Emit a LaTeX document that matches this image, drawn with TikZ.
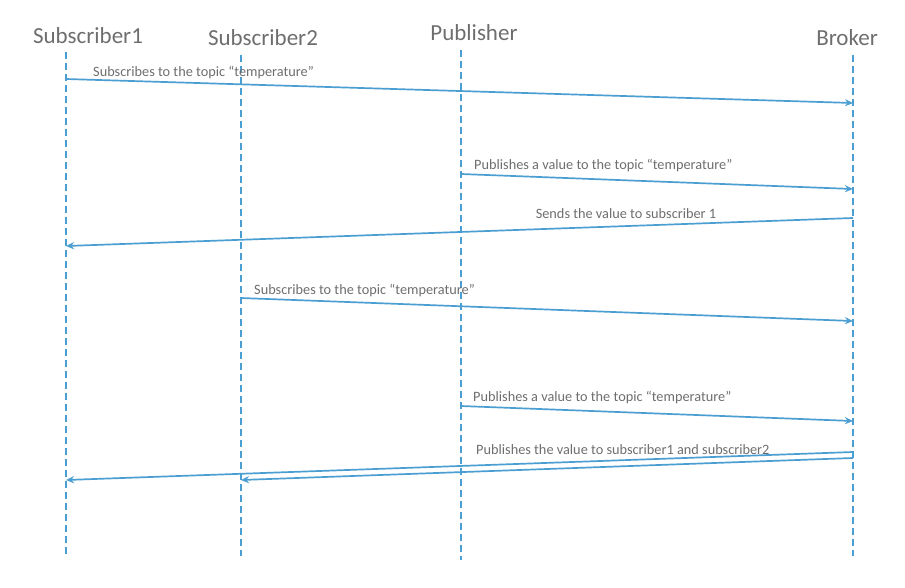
\documentclass[tikz,border=0pt]{standalone}
\usepackage{fontspec}
\setmainfont{Carlito}
\usetikzlibrary{arrows.meta}
\definecolor{ln}{HTML}{4A9ED2}
\definecolor{tx}{HTML}{6E6E6E}
\begin{document}
\begin{tikzpicture}[x=1pt,y=-1pt,
 life/.style={ln,line width=1.6pt,dash pattern=on 7pt off 4pt},
 msg/.style={ln,line width=1.7pt,-{Stealth[length=8pt,width=7pt]}},
 head/.style={text=tx,font=\fontsize{23}{26}\selectfont,inner sep=0pt},
 lab/.style={text=tx,font=\fontsize{14.3}{16}\selectfont,inner sep=0pt,anchor=west}]
\useasboundingbox (0,0) rectangle (905,587);
\node[head] (h1) at (88,36) {Subscriber1};
\node[head] (h2) at (263,38) {Subscriber2};
\node[head] (h3) at (474,33) {Publisher};
\node[head] (h4) at (847,38) {Broker};
\coordinate (s1t) at (66,52); \coordinate (s1b) at (66,556);
\coordinate (s2t) at (241,55); \coordinate (s2b) at (241,556);
\coordinate (pt) at (461,50); \coordinate (pb) at (461,560);
\coordinate (bt) at (853,55); \coordinate (bb) at (853,556);
\draw[life] (s1t)--(s1b); \draw[life] (s2t)--(s2b);
\draw[life] (pt)--(pb); \draw[life] (bt)--(bb);
\coordinate (a1) at (66,79); \coordinate (b1) at (853,103);
\draw[msg] (a1)--(b1);
\node[lab] (l1) at (93,72) {Subscribes to the topic “temperature”};
\coordinate (a2) at (461,174); \coordinate (b2) at (853,189);
\draw[msg] (a2)--(b2);
\node[lab] (l2) at (474,165) {Publishes a value to the topic “temperature”};
\coordinate (a3) at (853,218); \coordinate (b3) at (66,246);
\draw[msg] (a3)--(b3);
\node[lab,anchor=center] (l3) at (626,214) {Sends the value to subscriber 1};
\coordinate (a4) at (241,298); \coordinate (b4) at (853,321);
\draw[msg] (a4)--(b4);
\node[lab] (l4) at (254,290) {Subscribes to the topic “temperature”};
\coordinate (a5) at (461,406); \coordinate (b5) at (853,421);
\draw[msg] (a5)--(b5);
\node[lab] (l5) at (473,397) {Publishes a value to the topic “temperature”};
\coordinate (a6) at (853,452); \coordinate (b6) at (66,480);
\coordinate (a7) at (853,458); \coordinate (b7) at (241,480);
\draw[msg] (a6)--(b6);
\draw[msg] (a7)--(b7);
\node[lab] (l6) at (476,450) {Publishes the value to subscriber1 and subscriber2};
\end{tikzpicture}
\end{document}
